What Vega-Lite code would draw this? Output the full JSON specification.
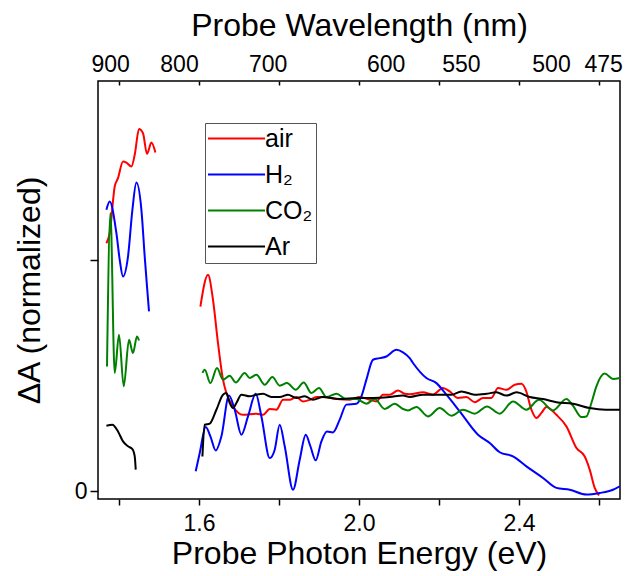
{
  "$schema": "https://vega.github.io/schema/vega-lite/v6.json",
  "width": 522,
  "height": 418,
  "autosize": "none",
  "padding": {"left": 98, "top": 81, "right": 8, "bottom": 77},
  "background": "white",
  "config": {
    "font": "Liberation Sans",
    "view": {"stroke": "black", "strokeWidth": 1.5},
    "axis": {
      "labelFont": "Liberation Sans", "labelFontSize": 23, "labelColor": "black",
      "titleFont": "Liberation Sans", "titleFontSize": 32, "titleFontWeight": "normal", "titleColor": "black",
      "tickColor": "black", "tickWidth": 1.5, "domain": false, "grid": false, "labelOverlap": false
    },
    "legend": {
      "labelFont": "Liberation Sans", "labelFontSize": 25, "labelColor": "black"
    }
  },
  "data": {"values": [
    {"gas":"air","seg":1,"energy":1.3685,"dA":1.072},{"gas":"air","seg":1,"energy":1.3767,"dA":1.115},{"gas":"air","seg":1,"energy":1.3893,"dA":1.317},{"gas":"air","seg":1,"energy":1.3975,"dA":1.353},{"gas":"air","seg":1,"energy":1.41,"dA":1.425},{"gas":"air","seg":1,"energy":1.4185,"dA":1.42},{"gas":"air","seg":1,"energy":1.431,"dA":1.403},{"gas":"air","seg":1,"energy":1.4393,"dA":1.454},{"gas":"air","seg":1,"energy":1.45,"dA":1.565},{"gas":"air","seg":1,"energy":1.46,"dA":1.547},{"gas":"air","seg":1,"energy":1.47,"dA":1.458},{"gas":"air","seg":1,"energy":1.481,"dA":1.507},{"gas":"air","seg":1,"energy":1.491,"dA":1.464},
    {"gas":"air","seg":2,"energy":1.6035,"dA":0.798},{"gas":"air","seg":2,"energy":1.6225,"dA":0.935},{"gas":"air","seg":2,"energy":1.635,"dA":0.827},{"gas":"air","seg":2,"energy":1.6475,"dA":0.64},{"gas":"air","seg":2,"energy":1.66,"dA":0.482},{"gas":"air","seg":2,"energy":1.6685,"dA":0.424},{"gas":"air","seg":2,"energy":1.685,"dA":0.366},{"gas":"air","seg":2,"energy":1.71,"dA":0.33},{"gas":"air","seg":2,"energy":1.7435,"dA":0.335},{"gas":"air","seg":2,"energy":1.76,"dA":0.33},{"gas":"air","seg":2,"energy":1.7768,"dA":0.355},{"gas":"air","seg":2,"energy":1.7935,"dA":0.352},{"gas":"air","seg":2,"energy":1.81,"dA":0.395},{"gas":"air","seg":2,"energy":1.8268,"dA":0.395},{"gas":"air","seg":2,"energy":1.8435,"dA":0.407},{"gas":"air","seg":2,"energy":1.86,"dA":0.388},{"gas":"air","seg":2,"energy":1.8768,"dA":0.395},{"gas":"air","seg":2,"energy":1.8935,"dA":0.407},{"gas":"air","seg":2,"energy":1.91,"dA":0.407},{"gas":"air","seg":2,"energy":1.9435,"dA":0.398},{"gas":"air","seg":2,"energy":1.9768,"dA":0.395},{"gas":"air","seg":2,"energy":2.0018,"dA":0.407},{"gas":"air","seg":2,"energy":2.0268,"dA":0.395},{"gas":"air","seg":2,"energy":2.0435,"dA":0.388},{"gas":"air","seg":2,"energy":2.06,"dA":0.417},{"gas":"air","seg":2,"energy":2.0768,"dA":0.417},{"gas":"air","seg":2,"energy":2.0975,"dA":0.435},{"gas":"air","seg":2,"energy":2.1143,"dA":0.421},{"gas":"air","seg":2,"energy":2.1268,"dA":0.419},{"gas":"air","seg":2,"energy":2.16,"dA":0.427},{"gas":"air","seg":2,"energy":2.185,"dA":0.417},{"gas":"air","seg":2,"energy":2.21,"dA":0.446},{"gas":"air","seg":2,"energy":2.2268,"dA":0.431},{"gas":"air","seg":2,"energy":2.2475,"dA":0.403},{"gas":"air","seg":2,"energy":2.2685,"dA":0.407},{"gas":"air","seg":2,"energy":2.2893,"dA":0.384},{"gas":"air","seg":2,"energy":2.31,"dA":0.403},{"gas":"air","seg":2,"energy":2.331,"dA":0.403},{"gas":"air","seg":2,"energy":2.3475,"dA":0.446},{"gas":"air","seg":2,"energy":2.3685,"dA":0.438},{"gas":"air","seg":2,"energy":2.3893,"dA":0.46},{"gas":"air","seg":2,"energy":2.406,"dA":0.464},{"gas":"air","seg":2,"energy":2.4168,"dA":0.438},{"gas":"air","seg":2,"energy":2.431,"dA":0.352},{"gas":"air","seg":2,"energy":2.4435,"dA":0.316},{"gas":"air","seg":2,"energy":2.456,"dA":0.338},{"gas":"air","seg":2,"energy":2.4685,"dA":0.364},{"gas":"air","seg":2,"energy":2.4935,"dA":0.33},{"gas":"air","seg":2,"energy":2.5185,"dA":0.28},{"gas":"air","seg":2,"energy":2.5435,"dA":0.187},{"gas":"air","seg":2,"energy":2.5643,"dA":0.15},{"gas":"air","seg":2,"energy":2.5768,"dA":0.093},{"gas":"air","seg":2,"energy":2.5893,"dA":0.014},{"gas":"air","seg":2,"energy":2.6,"dA":-0.019},
    {"gas":"H₂","seg":1,"energy":1.3685,"dA":1.216},{"gas":"H₂","seg":1,"energy":1.3767,"dA":1.252},{"gas":"H₂","seg":1,"energy":1.3935,"dA":1.115},{"gas":"H₂","seg":1,"energy":1.4018,"dA":1.0},{"gas":"H₂","seg":1,"energy":1.41,"dA":0.928},{"gas":"H₂","seg":1,"energy":1.4225,"dA":1.014},{"gas":"H₂","seg":1,"energy":1.4335,"dA":1.216},{"gas":"H₂","seg":1,"energy":1.4435,"dA":1.334},{"gas":"H₂","seg":1,"energy":1.456,"dA":1.216},{"gas":"H₂","seg":1,"energy":1.4643,"dA":1.014},{"gas":"H₂","seg":1,"energy":1.47,"dA":0.885},{"gas":"H₂","seg":1,"energy":1.475,"dA":0.777},
    {"gas":"H₂","seg":2,"energy":1.5918,"dA":0.086},{"gas":"H₂","seg":2,"energy":1.6018,"dA":0.165},{"gas":"H₂","seg":2,"energy":1.6168,"dA":0.277},{"gas":"H₂","seg":2,"energy":1.6285,"dA":0.237},{"gas":"H₂","seg":2,"energy":1.6418,"dA":0.176},{"gas":"H₂","seg":2,"energy":1.656,"dA":0.237},{"gas":"H₂","seg":2,"energy":1.675,"dA":0.413},{"gas":"H₂","seg":2,"energy":1.6893,"dA":0.352},{"gas":"H₂","seg":2,"energy":1.706,"dA":0.244},{"gas":"H₂","seg":2,"energy":1.7225,"dA":0.323},{"gas":"H₂","seg":2,"energy":1.7418,"dA":0.421},{"gas":"H₂","seg":2,"energy":1.756,"dA":0.323},{"gas":"H₂","seg":2,"energy":1.7768,"dA":0.143},{"gas":"H₂","seg":2,"energy":1.7893,"dA":0.179},{"gas":"H₂","seg":2,"energy":1.8018,"dA":0.287},{"gas":"H₂","seg":2,"energy":1.8143,"dA":0.194},{"gas":"H₂","seg":2,"energy":1.835,"dA":0.006},{"gas":"H₂","seg":2,"energy":1.8518,"dA":0.136},{"gas":"H₂","seg":2,"energy":1.8668,"dA":0.244},{"gas":"H₂","seg":2,"energy":1.8785,"dA":0.194},{"gas":"H₂","seg":2,"energy":1.8918,"dA":0.133},{"gas":"H₂","seg":2,"energy":1.906,"dA":0.215},{"gas":"H₂","seg":2,"energy":1.92,"dA":0.258},{"gas":"H₂","seg":2,"energy":1.935,"dA":0.254},{"gas":"H₂","seg":2,"energy":1.9518,"dA":0.309},{"gas":"H₂","seg":2,"energy":1.9685,"dA":0.374},{"gas":"H₂","seg":2,"energy":1.9935,"dA":0.378},{"gas":"H₂","seg":2,"energy":2.006,"dA":0.41},{"gas":"H₂","seg":2,"energy":2.0185,"dA":0.482},{"gas":"H₂","seg":2,"energy":2.035,"dA":0.568},{"gas":"H₂","seg":2,"energy":2.0518,"dA":0.575},{"gas":"H₂","seg":2,"energy":2.0685,"dA":0.582},{"gas":"H₂","seg":2,"energy":2.0935,"dA":0.611},{"gas":"H₂","seg":2,"energy":2.11,"dA":0.6},{"gas":"H₂","seg":2,"energy":2.1268,"dA":0.575},{"gas":"H₂","seg":2,"energy":2.135,"dA":0.554},{"gas":"H₂","seg":2,"energy":2.1685,"dA":0.489},{"gas":"H₂","seg":2,"energy":2.1935,"dA":0.467},{"gas":"H₂","seg":2,"energy":2.2185,"dA":0.417},{"gas":"H₂","seg":2,"energy":2.2518,"dA":0.345},{"gas":"H₂","seg":2,"energy":2.2975,"dA":0.244},{"gas":"H₂","seg":2,"energy":2.3268,"dA":0.208},{"gas":"H₂","seg":2,"energy":2.3518,"dA":0.168},{"gas":"H₂","seg":2,"energy":2.385,"dA":0.15},{"gas":"H₂","seg":2,"energy":2.4185,"dA":0.107},{"gas":"H₂","seg":2,"energy":2.46,"dA":0.057},{"gas":"H₂","seg":2,"energy":2.4935,"dA":0.014},{"gas":"H₂","seg":2,"energy":2.5268,"dA":0.006},{"gas":"H₂","seg":2,"energy":2.5685,"dA":-0.015},{"gas":"H₂","seg":2,"energy":2.6018,"dA":-0.008},{"gas":"H₂","seg":2,"energy":2.635,"dA":0.006},{"gas":"H₂","seg":2,"energy":2.652,"dA":0.021},
    {"gas":"CO₂","seg":1,"energy":1.37,"dA":0.539},{"gas":"CO₂","seg":1,"energy":1.3785,"dA":1.202},{"gas":"CO₂","seg":1,"energy":1.3893,"dA":0.511},{"gas":"CO₂","seg":1,"energy":1.4,"dA":0.676},{"gas":"CO₂","seg":1,"energy":1.4118,"dA":0.453},{"gas":"CO₂","seg":1,"energy":1.425,"dA":0.654},{"gas":"CO₂","seg":1,"energy":1.435,"dA":0.597},{"gas":"CO₂","seg":1,"energy":1.445,"dA":0.669},{"gas":"CO₂","seg":1,"energy":1.45,"dA":0.651},
    {"gas":"CO₂","seg":2,"energy":1.6085,"dA":0.511},{"gas":"CO₂","seg":2,"energy":1.6143,"dA":0.525},{"gas":"CO₂","seg":2,"energy":1.6285,"dA":0.467},{"gas":"CO₂","seg":2,"energy":1.645,"dA":0.532},{"gas":"CO₂","seg":2,"energy":1.66,"dA":0.482},{"gas":"CO₂","seg":2,"energy":1.6768,"dA":0.499},{"gas":"CO₂","seg":2,"energy":1.6918,"dA":0.47},{"gas":"CO₂","seg":2,"energy":1.7143,"dA":0.511},{"gas":"CO₂","seg":2,"energy":1.7268,"dA":0.489},{"gas":"CO₂","seg":2,"energy":1.7435,"dA":0.503},{"gas":"CO₂","seg":2,"energy":1.7643,"dA":0.46},{"gas":"CO₂","seg":2,"energy":1.7835,"dA":0.493},{"gas":"CO₂","seg":2,"energy":1.8018,"dA":0.456},{"gas":"CO₂","seg":2,"energy":1.82,"dA":0.467},{"gas":"CO₂","seg":2,"energy":1.8418,"dA":0.438},{"gas":"CO₂","seg":2,"energy":1.8618,"dA":0.47},{"gas":"CO₂","seg":2,"energy":1.881,"dA":0.424},{"gas":"CO₂","seg":2,"energy":1.9,"dA":0.446},{"gas":"CO₂","seg":2,"energy":1.9185,"dA":0.407},{"gas":"CO₂","seg":2,"energy":1.9435,"dA":0.421},{"gas":"CO₂","seg":2,"energy":1.9685,"dA":0.398},{"gas":"CO₂","seg":2,"energy":1.9935,"dA":0.398},{"gas":"CO₂","seg":2,"energy":2.0185,"dA":0.378},{"gas":"CO₂","seg":2,"energy":2.0393,"dA":0.398},{"gas":"CO₂","seg":2,"energy":2.0643,"dA":0.355},{"gas":"CO₂","seg":2,"energy":2.0893,"dA":0.378},{"gas":"CO₂","seg":2,"energy":2.11,"dA":0.355},{"gas":"CO₂","seg":2,"energy":2.1225,"dA":0.349},{"gas":"CO₂","seg":2,"energy":2.1435,"dA":0.364},{"gas":"CO₂","seg":2,"energy":2.1725,"dA":0.323},{"gas":"CO₂","seg":2,"energy":2.2018,"dA":0.359},{"gas":"CO₂","seg":2,"energy":2.231,"dA":0.326},{"gas":"CO₂","seg":2,"energy":2.26,"dA":0.352},{"gas":"CO₂","seg":2,"energy":2.2893,"dA":0.335},{"gas":"CO₂","seg":2,"energy":2.32,"dA":0.366},{"gas":"CO₂","seg":2,"energy":2.3518,"dA":0.335},{"gas":"CO₂","seg":2,"energy":2.385,"dA":0.388},{"gas":"CO₂","seg":2,"energy":2.4185,"dA":0.352},{"gas":"CO₂","seg":2,"energy":2.45,"dA":0.395},{"gas":"CO₂","seg":2,"energy":2.485,"dA":0.349},{"gas":"CO₂","seg":2,"energy":2.5185,"dA":0.398},{"gas":"CO₂","seg":2,"energy":2.535,"dA":0.369},{"gas":"CO₂","seg":2,"energy":2.556,"dA":0.32},{"gas":"CO₂","seg":2,"energy":2.5685,"dA":0.323},{"gas":"CO₂","seg":2,"energy":2.581,"dA":0.381},{"gas":"CO₂","seg":2,"energy":2.5935,"dA":0.453},{"gas":"CO₂","seg":2,"energy":2.6143,"dA":0.508},{"gas":"CO₂","seg":2,"energy":2.635,"dA":0.485},{"gas":"CO₂","seg":2,"energy":2.652,"dA":0.489},
    {"gas":"Ar","seg":1,"energy":1.3685,"dA":0.283},{"gas":"Ar","seg":1,"energy":1.3835,"dA":0.287},{"gas":"Ar","seg":1,"energy":1.3975,"dA":0.258},{"gas":"Ar","seg":1,"energy":1.41,"dA":0.215},{"gas":"Ar","seg":1,"energy":1.4225,"dA":0.194},{"gas":"Ar","seg":1,"energy":1.4335,"dA":0.182},{"gas":"Ar","seg":1,"energy":1.4393,"dA":0.15},{"gas":"Ar","seg":1,"energy":1.4418,"dA":0.093},
    {"gas":"Ar","seg":2,"energy":1.6085,"dA":0.15},{"gas":"Ar","seg":2,"energy":1.6143,"dA":0.287},{"gas":"Ar","seg":2,"energy":1.6268,"dA":0.292},{"gas":"Ar","seg":2,"energy":1.6435,"dA":0.352},{"gas":"Ar","seg":2,"energy":1.66,"dA":0.417},{"gas":"Ar","seg":2,"energy":1.6685,"dA":0.424},{"gas":"Ar","seg":2,"energy":1.6768,"dA":0.381},{"gas":"Ar","seg":2,"energy":1.685,"dA":0.359},{"gas":"Ar","seg":2,"energy":1.6935,"dA":0.381},{"gas":"Ar","seg":2,"energy":1.706,"dA":0.417},{"gas":"Ar","seg":2,"energy":1.7268,"dA":0.41},{"gas":"Ar","seg":2,"energy":1.7435,"dA":0.417},{"gas":"Ar","seg":2,"energy":1.76,"dA":0.421},{"gas":"Ar","seg":2,"energy":1.781,"dA":0.407},{"gas":"Ar","seg":2,"energy":1.8018,"dA":0.407},{"gas":"Ar","seg":2,"energy":1.8225,"dA":0.417},{"gas":"Ar","seg":2,"energy":1.8435,"dA":0.403},{"gas":"Ar","seg":2,"energy":1.8643,"dA":0.41},{"gas":"Ar","seg":2,"energy":1.885,"dA":0.395},{"gas":"Ar","seg":2,"energy":1.91,"dA":0.407},{"gas":"Ar","seg":2,"energy":1.9518,"dA":0.398},{"gas":"Ar","seg":2,"energy":1.9935,"dA":0.403},{"gas":"Ar","seg":2,"energy":2.035,"dA":0.403},{"gas":"Ar","seg":2,"energy":2.0768,"dA":0.407},{"gas":"Ar","seg":2,"energy":2.11,"dA":0.413},{"gas":"Ar","seg":2,"energy":2.1268,"dA":0.407},{"gas":"Ar","seg":2,"energy":2.16,"dA":0.417},{"gas":"Ar","seg":2,"energy":2.2018,"dA":0.417},{"gas":"Ar","seg":2,"energy":2.231,"dA":0.417},{"gas":"Ar","seg":2,"energy":2.256,"dA":0.431},{"gas":"Ar","seg":2,"energy":2.2893,"dA":0.417},{"gas":"Ar","seg":2,"energy":2.3185,"dA":0.421},{"gas":"Ar","seg":2,"energy":2.3435,"dA":0.427},{"gas":"Ar","seg":2,"energy":2.3685,"dA":0.413},{"gas":"Ar","seg":2,"energy":2.3935,"dA":0.427},{"gas":"Ar","seg":2,"energy":2.4268,"dA":0.407},{"gas":"Ar","seg":2,"energy":2.46,"dA":0.398},{"gas":"Ar","seg":2,"energy":2.4935,"dA":0.384},{"gas":"Ar","seg":2,"energy":2.535,"dA":0.378},{"gas":"Ar","seg":2,"energy":2.5768,"dA":0.359},{"gas":"Ar","seg":2,"energy":2.6168,"dA":0.352},{"gas":"Ar","seg":2,"energy":2.652,"dA":0.352}
  ]},
  "layer": [
    {
      "mark": {"type": "line", "interpolate": "monotone", "strokeWidth": 2, "clip": true},
      "encoding": {
        "x": {"field": "energy", "type": "quantitative",
              "scale": {"domain": [1.3475, 2.6525], "nice": false, "zero": false},
              "axis": {"orient": "bottom", "title": "Probe Photon Energy (eV)",
                       "values": [1.4, 1.6, 1.8, 2.0, 2.2, 2.4, 2.6],
                       "labelExpr": "(abs(datum.value-1.6)<0.01 || abs(datum.value-2.0)<0.01 || abs(datum.value-2.4)<0.01) ? format(datum.value, '.1f') : ''",
                       "tickSize": 6, "labelPadding": 7, "titlePadding": 3}},
        "y": {"field": "dA", "type": "quantitative",
              "scale": {"domain": [-0.034, 1.773], "nice": false, "zero": false},
              "axis": {"title": "ΔA (normalized)", "values": [0, 1],
                       "labelExpr": "datum.value == 0 ? '0' : ''",
                       "tickSize": 8, "labelPadding": 3, "titlePadding": 28}},
        "color": {"field": "gas", "type": "nominal",
                  "scale": {"domain": ["air", "H₂", "CO₂", "Ar"], "range": ["#ff0000", "#0000ff", "#008000", "#000000"]},
                  "legend": {"orient": "none", "legendX": 107, "legendY": 42, "title": null,
                             "symbolType": "M-5,0H5", "symbolSize": 130, "symbolStrokeWidth": 2,
                             "symbolOffset": 16, "labelOffset": 16, "rowPadding": 10, "padding": 3,
                             "strokeColor": "#555555", "fillColor": "white"}},
        "detail": {"field": "seg", "type": "nominal"}
      }
    },
    {
      "mark": {"type": "line", "opacity": 0, "clip": true},
      "encoding": {
        "x": {"field": "energy", "type": "quantitative",
              "axis": {"orient": "top", "title": "Probe Wavelength (nm)",
                       "values": [1.377778, 1.55, 1.771429, 2.066667, 2.254545, 2.48, 2.610526],
                       "labelExpr": "format(1240/datum.value, '.0f')",
                       "ticks": false, "labelPadding": 5, "titlePadding": 11}},
        "y": {"field": "dA", "type": "quantitative"},
        "detail": {"field": "seg", "type": "nominal"},
        "color": {"field": "gas", "type": "nominal", "legend": null}
      }
    },
    {
      "mark": {"type": "line", "opacity": 0, "clip": true},
      "encoding": {
        "x": {"field": "energy", "type": "quantitative",
              "axis": {"orient": "top", "title": null, "labels": false,
                       "values": [1.4, 1.6, 1.8, 2.0, 2.2, 2.4, 2.6],
                       "tickSize": -4}},
        "y": {"field": "dA", "type": "quantitative"},
        "detail": {"field": "seg", "type": "nominal"},
        "color": {"field": "gas", "type": "nominal", "legend": null}
      }
    }
  ],
  "resolve": {"axis": {"x": "independent"}}
}
